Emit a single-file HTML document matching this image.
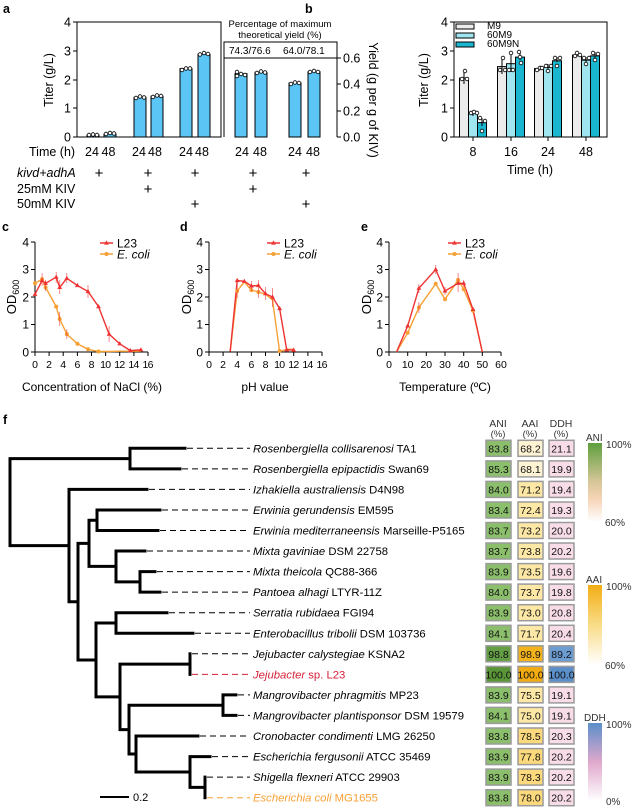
<!DOCTYPE html>
<html><head><meta charset="utf-8"><style>
body{margin:0;background:#fff}
svg{display:block;font-family:"Liberation Sans",Arial,sans-serif}
</style></head><body>
<svg width="632" height="811" viewBox="0 0 632 811" xmlns="http://www.w3.org/2000/svg">
<defs>
<path id="tri" d="M0,-2.6L2.4,1.6H-2.4Z" fill="#ee3333"/>
<linearGradient id="gA" x1="0" y1="0" x2="0" y2="1"><stop offset="0" stop-color="#5f9f3e"/><stop offset="0.5" stop-color="#d8c79a"/><stop offset="0.7" stop-color="#f5d3b5"/><stop offset="1" stop-color="#fff"/></linearGradient>
<linearGradient id="gB" x1="0" y1="0" x2="0" y2="1"><stop offset="0" stop-color="#f2ae14"/><stop offset="0.5" stop-color="#f9dc88"/><stop offset="1" stop-color="#fff"/></linearGradient>
<linearGradient id="gC" x1="0" y1="0" x2="0" y2="1"><stop offset="0" stop-color="#5b8fca"/><stop offset="0.5" stop-color="#e0a8cc"/><stop offset="1" stop-color="#fff"/></linearGradient>
</defs>
<g font-weight="bold" font-size="12.5" fill="#000">
<text x="3" y="13">a</text><text x="305" y="13">b</text>
<text x="2" y="231">c</text><text x="180" y="231">d</text><text x="361" y="231">e</text>
<text x="3" y="424">f</text></g>

<!-- Panel a -->
<g stroke="#000" stroke-width="1" fill="none">
<path d="M77,22V137H221V22H77"/>
<path d="M224,137V42H337V137"/><path d="M224,58H337"/>
<path d="M73,22H77M73,51H77M73,80H77M73,108H77M73,137H77"/>
<path d="M337,58H341M337,84H341M337,111H341M337,137H341"/>
</g>
<g font-size="12.5" text-anchor="end"><text x="71" y="26.5">4</text><text x="71" y="55.5">3</text><text x="71" y="84.5">2</text><text x="71" y="112.5">1</text><text x="71" y="141.5">0</text></g>
<g font-size="12.5"><text x="343" y="62.5">0.6</text><text x="343" y="88.5">0.4</text><text x="343" y="115.5">0.2</text><text x="343" y="141.5">0.0</text></g>
<text font-size="12.5" transform="translate(53,80) rotate(-90)" text-anchor="middle">Titer (g/L)</text>
<text font-size="12.5" transform="translate(369,100) rotate(90)" text-anchor="middle">Yield (g per g of KIV)</text>
<g font-size="9.5" text-anchor="middle"><text x="280" y="27">Percentage of maximum</text><text x="280" y="38">theoretical yield (%)</text></g>
<g font-size="10"><text x="229" y="54">74.3/76.6</text><text x="283" y="54">64.0/78.1</text></g>
<g fill="#5bc6f6" stroke="#000" stroke-width="1">
<rect x="87" y="135" width="12" height="2"/><rect x="104" y="134" width="12" height="3"/>
<rect x="134" y="97.3" width="12" height="39.7"/><rect x="151" y="96.2" width="12" height="40.8"/>
<rect x="180" y="68.6" width="12" height="68.4"/><rect x="198" y="54.2" width="12" height="82.8"/>
<rect x="235" y="73.7" width="12" height="63.3"/><rect x="255" y="72.3" width="12" height="64.7"/>
<rect x="289" y="83" width="12" height="54"/><rect x="308" y="71.7" width="12" height="65.3"/>
</g>
<g fill="#fff" stroke="#000" stroke-width="0.8">
<circle cx="89" cy="135" r="1.8"/><circle cx="93" cy="134.5" r="1.8"/><circle cx="97" cy="135" r="1.8"/>
<circle cx="106" cy="134" r="1.8"/><circle cx="110" cy="133" r="1.8"/><circle cx="114" cy="133.5" r="1.8"/>
<circle cx="136" cy="98" r="1.8"/><circle cx="140" cy="96.5" r="1.8"/><circle cx="144" cy="97.5" r="1.8"/>
<circle cx="153" cy="97" r="1.8"/><circle cx="157" cy="95.5" r="1.8"/><circle cx="161" cy="96" r="1.8"/>
<circle cx="182" cy="70" r="1.8"/><circle cx="186" cy="68.5" r="1.8"/><circle cx="190" cy="68.5" r="1.8"/>
<circle cx="200" cy="54.5" r="1.8"/><circle cx="204" cy="53" r="1.8"/><circle cx="208" cy="54" r="1.8"/>
<circle cx="237" cy="72" r="1.8"/><circle cx="237" cy="76" r="1.8"/><circle cx="241" cy="74" r="1.8"/><circle cx="245" cy="75" r="1.8"/>
<circle cx="257" cy="73" r="1.8"/><circle cx="261" cy="71.5" r="1.8"/><circle cx="265" cy="72.5" r="1.8"/>
<circle cx="291" cy="84" r="1.8"/><circle cx="295" cy="82.5" r="1.8"/><circle cx="299" cy="83" r="1.8"/>
<circle cx="310" cy="72" r="1.8"/><circle cx="314" cy="71" r="1.8"/><circle cx="318" cy="72" r="1.8"/>
</g>
<g font-size="12.5">
<text x="29" y="156">Time (h)</text>
<text x="85" y="156">24</text><text x="101.5" y="156">48</text>
<text x="132" y="156">24</text><text x="148" y="156">48</text>
<text x="179" y="156">24</text><text x="195" y="156">48</text>
<text x="235" y="156">24</text><text x="253" y="156">48</text>
<text x="288" y="156">24</text><text x="306" y="156">48</text>
<text x="17" y="177" font-style="italic">kivd+adhA</text>
<text x="17" y="193">25mM KIV</text>
<text x="17" y="208">50mM KIV</text>
</g>
<g font-size="15" text-anchor="middle">
<text x="99" y="178">+</text><text x="148" y="178">+</text><text x="195" y="178">+</text><text x="253" y="178">+</text><text x="306" y="178">+</text>
<text x="148" y="194">+</text><text x="253" y="194">+</text>
<text x="195" y="209">+</text><text x="306" y="209">+</text>
</g>

<!-- Panel b -->
<g stroke="#000" stroke-width="1" fill="none">
<path d="M454,22V137H607V22H454"/>
<path d="M450,22H454M450,51H454M450,80H454M450,108H454M450,137H454"/>
<path d="M473,137V141M511,137V141M548,137V141M586,137V141"/>
</g>
<g font-size="12.5" text-anchor="end"><text x="448" y="26.5">4</text><text x="448" y="55.5">3</text><text x="448" y="84.5">2</text><text x="448" y="112.5">1</text><text x="448" y="141.5">0</text></g>
<g font-size="12.5" text-anchor="middle"><text x="473" y="156">8</text><text x="511" y="156">16</text><text x="548" y="156">24</text><text x="586" y="156">48</text>
<text x="530" y="174">Time (h)</text></g>
<text font-size="12.5" transform="translate(428,80) rotate(-90)" text-anchor="middle">Titer (g/L)</text>
<g stroke="#000" stroke-width="1">
<g fill="#ececec"><rect x="459.5" y="78.1" width="9" height="58.9"/><rect x="497.5" y="66.6" width="9" height="70.4"/><rect x="534.5" y="68.6" width="9" height="68.4"/><rect x="572.5" y="55.1" width="9" height="81.9"/>
<rect x="456" y="24" width="18" height="5"/></g>
<g fill="#9fe6f1"><rect x="468.5" y="113.1" width="9" height="23.9"/><rect x="506.5" y="63.7" width="9" height="73.3"/><rect x="543.5" y="67.4" width="9" height="69.6"/><rect x="581.5" y="60.2" width="9" height="76.8"/>
<rect x="456" y="33" width="18" height="5"/></g>
<g fill="#1ab6cf"><rect x="477.5" y="122.6" width="9" height="14.4"/><rect x="515.5" y="57.1" width="9" height="79.9"/><rect x="552.5" y="60.8" width="9" height="76.2"/><rect x="590.5" y="55.9" width="9" height="81.1"/>
<rect x="456" y="42" width="18" height="5"/></g>
<path d="M464,72V84M473,110V116M482,118V126M502,58V74M511,52V72M520,52V60M539,67V71M548,64V70M557,57V62M577,53V57M586,57V62M595,52V59" fill="none"/>
</g>
<g font-size="10"><text x="487" y="29">M9</text><text x="487" y="38">60M9</text><text x="487" y="47">60M9N</text></g>
<g fill="#fff" stroke="#000" stroke-width="0.8">
<circle cx="462" cy="79" r="1.8"/><circle cx="465" cy="71" r="1.8"/><circle cx="467" cy="79" r="1.8"/>
<circle cx="471" cy="113" r="1.8"/><circle cx="474" cy="112" r="1.8"/><circle cx="477" cy="113" r="1.8"/>
<circle cx="480" cy="118" r="1.8"/><circle cx="482" cy="131" r="1.8"/><circle cx="485" cy="121" r="1.8"/>
<circle cx="500" cy="70" r="1.8"/><circle cx="503" cy="58" r="1.8"/><circle cx="505" cy="70" r="1.8"/>
<circle cx="509" cy="70" r="1.8"/><circle cx="511" cy="53" r="1.8"/><circle cx="513" cy="70" r="1.8"/>
<circle cx="519" cy="52" r="1.8"/><circle cx="520" cy="57" r="1.8"/><circle cx="521" cy="63" r="1.8"/>
<circle cx="537" cy="70" r="1.8"/><circle cx="540" cy="68" r="1.8"/><circle cx="542" cy="68" r="1.8"/>
<circle cx="546" cy="66" r="1.8"/><circle cx="548" cy="71" r="1.8"/><circle cx="551" cy="66" r="1.8"/>
<circle cx="555" cy="58" r="1.8"/><circle cx="557" cy="66" r="1.8"/><circle cx="560" cy="58" r="1.8"/>
<circle cx="575" cy="56" r="1.8"/><circle cx="577" cy="53" r="1.8"/><circle cx="580" cy="55" r="1.8"/>
<circle cx="584" cy="58" r="1.8"/><circle cx="586" cy="64" r="1.8"/><circle cx="589" cy="58" r="1.8"/>
<circle cx="593" cy="53" r="1.8"/><circle cx="595" cy="60" r="1.8"/><circle cx="598" cy="54" r="1.8"/>
</g>

<!-- Panel c,d,e axes -->
<g stroke="#000" stroke-width="1" fill="none">
<path d="M35,242V352H148M31,242H35M31,269.5H35M31,297H35M31,324.5H35M31,352H35"/>
<path d="M35,352V356M49.1,352V356M63.2,352V356M77.4,352V356M91.5,352V356M105.6,352V356M119.7,352V356M133.9,352V356M148,352V356"/>
<path d="M209,242V352H322M205,242H209M205,269.5H209M205,297H209M205,324.5H209M205,352H209"/>
<path d="M209,352V356M223.1,352V356M237.2,352V356M251.4,352V356M265.5,352V356M279.6,352V356M293.7,352V356M307.9,352V356M322,352V356"/>
<path d="M389,242V352H501M385,242H389M385,269.5H389M385,297H389M385,324.5H389M385,352H389"/>
<path d="M389,352V356M407.7,352V356M426.3,352V356M445,352V356M463.7,352V356M482.3,352V356M501,352V356"/>
</g>
<g font-size="12" text-anchor="end">
<text x="29" y="246.5">4</text><text x="29" y="273.5">3</text><text x="29" y="301.5">2</text><text x="29" y="328.5">1</text><text x="29" y="356.5">0</text>
<text x="203" y="246.5">4</text><text x="203" y="273.5">3</text><text x="203" y="301.5">2</text><text x="203" y="328.5">1</text><text x="203" y="356.5">0</text>
<text x="383" y="246.5">4</text><text x="383" y="273.5">3</text><text x="383" y="301.5">2</text><text x="383" y="328.5">1</text><text x="383" y="356.5">0</text>
</g>
<g font-size="10.5" text-anchor="middle">
<text x="35" y="368">0</text><text x="49.1" y="368">2</text><text x="63.2" y="368">4</text><text x="77.4" y="368">6</text><text x="91.5" y="368">8</text><text x="105.6" y="368" textLength="11">10</text><text x="119.7" y="368" textLength="11">12</text><text x="133.9" y="368" textLength="11">14</text><text x="148" y="368" textLength="11">16</text>
<text x="209" y="368">0</text><text x="223.1" y="368">2</text><text x="237.2" y="368">4</text><text x="251.4" y="368">6</text><text x="265.5" y="368">8</text><text x="279.6" y="368" textLength="11">10</text><text x="293.7" y="368" textLength="11">12</text><text x="307.9" y="368" textLength="11">14</text><text x="322" y="368" textLength="11">16</text>
<text x="389" y="368">0</text><text x="407.7" y="368">10</text><text x="426.3" y="368">20</text><text x="445" y="368">30</text><text x="463.7" y="368">40</text><text x="482.3" y="368">50</text><text x="501" y="368">60</text>
</g>
<g font-size="12" text-anchor="middle">
<text x="92" y="391">Concentration of NaCl  (%)</text>
<text x="265" y="391">pH value</text>
<text x="445" y="391">Temperature (ºC)</text>
</g>
<g font-size="13" text-anchor="middle">
<text transform="translate(16,297) rotate(-90)">OD<tspan font-size="9" dy="3">600</tspan></text>
<text transform="translate(191,297) rotate(-90)">OD<tspan font-size="9" dy="3">600</tspan></text>
<text transform="translate(371,297) rotate(-90)">OD<tspan font-size="9" dy="3">600</tspan></text>
</g>
<!-- legends -->
<g stroke-width="1.5">
<path d="M100,243H113M267,243H280M448,243H461" stroke="#ee3333"/>
<path d="M100,254H113M267,254H280M448,254H461" stroke="#f7a035"/>
</g>
<use href="#tri" x="106.5" y="243"/><use href="#tri" x="273.5" y="243"/><use href="#tri" x="454.5" y="243"/>
<g fill="#f7a035"><circle cx="106.5" cy="254" r="2"/><circle cx="273.5" cy="254" r="2"/><circle cx="454.5" cy="254" r="2"/></g>
<g font-size="12"><text x="117" y="247.5">L23</text><text x="117" y="258.5" font-style="italic">E. coli</text>
<text x="284" y="247.5">L23</text><text x="284" y="258.5" font-style="italic">E. coli</text>
<text x="465" y="247.5">L23</text><text x="465" y="258.5" font-style="italic">E. coli</text></g>
<g fill="none" stroke-width="1.4">
<polyline stroke="#f7a035" points="35,283.3 42.1,279.1 45.6,287.4 56.2,306.6 59.7,319 66.8,334.1 77.4,343.8 88,349.3 98.5,351.5 109.1,351.5 119.7,351.2 130.3,351.2 140.9,351.2"/>
<polyline stroke="#ee3333" points="35,294.3 42.1,280.5 45.6,283.3 56.2,277.2 59.7,287.4 66.8,278.3 77.4,285.5 88,291.5 98.5,306.6 109.1,334.1 119.7,343.8 130.3,350.6 140.9,349.8"/>
<polyline stroke="#f7a035" points="230.2,351.5 237.2,291 244.3,281.9 251.4,290.1 258.4,292 265.5,294.3 272.5,299.8 279.6,351.5 286.7,349.3 293.7,349.3"/>
<polyline stroke="#ee3333" points="230.2,351.5 237.2,280.5 244.3,281.3 251.4,286 258.4,285.5 265.5,293.7 272.5,297 279.6,308.5 286.7,349.8 293.7,350.1"/>
<polyline stroke="#f7a035" points="396.5,352 407.7,332.8 418.9,307.5 435.7,283.8 445,299.2 458.1,280 463.7,289.3 473,310.8 482.3,352"/>
<polyline stroke="#ee3333" points="396.5,352 407.7,325.9 418.9,288.2 435.7,269.5 445,291 458.1,283.3 463.7,283.3 473,309.4 482.3,352"/>
</g>
<g fill="#f7a035"><circle cx="35" cy="283.3" r="2"/><circle cx="42.1" cy="279.1" r="2"/><circle cx="45.6" cy="287.4" r="2"/><circle cx="56.2" cy="306.6" r="2"/><circle cx="59.7" cy="319" r="2"/><circle cx="66.8" cy="334.1" r="2"/><circle cx="77.4" cy="343.8" r="2"/><circle cx="88" cy="349.3" r="2"/><circle cx="98.5" cy="351.5" r="2"/>
<circle cx="237.2" cy="291" r="2"/><circle cx="251.4" cy="290.1" r="2"/><circle cx="258.4" cy="292" r="2"/><circle cx="279.6" cy="351" r="2"/>
<circle cx="407.7" cy="332.8" r="2"/><circle cx="418.9" cy="307.5" r="2"/><circle cx="435.7" cy="283.8" r="2"/><circle cx="445" cy="299.2" r="2"/><circle cx="458.1" cy="280" r="2"/><circle cx="463.7" cy="289.3" r="2"/><circle cx="473" cy="310.8" r="2"/></g>
<g>
<use href="#tri" x="35" y="294.3"/><use href="#tri" x="42.1" y="280.5"/><use href="#tri" x="45.6" y="283.3"/><use href="#tri" x="56.2" y="277.2"/><use href="#tri" x="59.7" y="287.4"/><use href="#tri" x="66.8" y="278.3"/><use href="#tri" x="77.4" y="285.5"/><use href="#tri" x="88" y="291.5"/><use href="#tri" x="98.5" y="306.6"/><use href="#tri" x="109.1" y="334.1"/><use href="#tri" x="119.7" y="343.8"/><use href="#tri" x="130.3" y="350.6"/><use href="#tri" x="140.9" y="349.8"/>
<use href="#tri" x="237.2" y="280.5"/><use href="#tri" x="244.3" y="281.3"/><use href="#tri" x="251.4" y="286"/><use href="#tri" x="258.4" y="285.5"/><use href="#tri" x="265.5" y="293.7"/><use href="#tri" x="272.5" y="297"/><use href="#tri" x="279.6" y="308.5"/><use href="#tri" x="286.7" y="349.8"/><use href="#tri" x="293.7" y="350.1"/>
<use href="#tri" x="407.7" y="325.9"/><use href="#tri" x="418.9" y="288.2"/><use href="#tri" x="435.7" y="269.5"/><use href="#tri" x="445" y="291"/><use href="#tri" x="458.1" y="283.3"/><use href="#tri" x="463.7" y="283.3"/><use href="#tri" x="473" y="309.4"/>
</g>
<g stroke="#ee3333" stroke-width="0.8" fill="none" opacity="0.7">
<path d="M56.2,272V283M59.7,280V294M66.8,273V283M88,285V298M109.1,326V342M42.1,275V286M45.6,280V291M59.7,312V326M66.8,329V339M42.1,273V285"/>
<path d="M251.4,281V291M258.4,280V292M265.5,287V300M272.5,288V307M237.2,284V298M258.4,286V298"/>
<path d="M418.9,284V293M435.7,265V274M445,287V295M458.1,275V292M463.7,280V287M418.9,302V313M458.1,273V290"/>
</g>
<!-- Panel f tree -->
<g stroke="#000" stroke-width="3" fill="none" stroke-linecap="square">
<path d="M10,458.6V545.6M10,458.6H130M10,545.6H69"/>
<path d="M130,448.3V468.9M130,448.3H185M130,468.9H180"/>
<path d="M69,489.4V601.7M69,489.4H147M69,601.7H78"/>
<path d="M78,543.4V660M78,543.4H89M78,660H96"/>
<path d="M89,520.3V566.4M89,520.3H97M89,566.4H116"/>
<path d="M97,510V530.5M97,510H160M97,530.5H158"/>
<path d="M116,551V581.9M116,551H145M116,581.9H140"/>
<path d="M140,571.6V592.1M140,571.6H155M140,592.1H160"/>
<path d="M96,623V696.9M96,623H116M96,696.9H120"/>
<path d="M116,612.7V633.3M116,612.7H167M116,633.3H193"/>
<path d="M120,664.1V729.6M120,664.1H190M120,729.6H129"/>
<path d="M190,653.8V674.4"/>
<path d="M129,705.2V754M129,705.2H223M129,754H136"/>
<path d="M223,694.9V715.4M223,694.9H236M223,715.4H236"/>
<path d="M136,736V772M136,736H198M136,772H190"/>
<path d="M190,756.6V787.4M190,756.6H210M190,787.4H205"/>
<path d="M205,777.1V797.7"/>
<path d="M101,797H128" stroke-width="2"/>
</g>
<text x="133" y="801" font-size="11">0.2</text>
<g stroke="#000" stroke-width="1" stroke-dasharray="6,4" fill="none">
<path d="M187,448.3H250M182,468.9H250M149,489.4H250M162,510H250M160,530.5H250M147,551H250M157,571.6H250M162,592.1H250M169,612.7H250M195,633.3H250M192,653.8H250M238,694.9H250M238,715.4H250M200,736H250M212,756.6H250M207,777.1H250"/>
<path d="M192,674.4H250" stroke="#d6203a"/><path d="M207,797.7H250" stroke="#f7a035"/>
</g>
<g font-size="11.3">
<text x="253" y="452.3"><tspan font-style="italic">Rosenbergiella collisarenosi</tspan> TA1</text>
<text x="253" y="472.9"><tspan font-style="italic">Rosenbergiella epipactidis</tspan> Swan69</text>
<text x="253" y="493.4"><tspan font-style="italic">Izhakiella australiensis</tspan> D4N98</text>
<text x="253" y="514"><tspan font-style="italic">Erwinia gerundensis</tspan> EM595</text>
<text x="253" y="534.5"><tspan font-style="italic">Erwinia mediterraneensis</tspan> Marseille-P5165</text>
<text x="253" y="555"><tspan font-style="italic">Mixta gaviniae</tspan> DSM 22758</text>
<text x="253" y="575.6"><tspan font-style="italic">Mixta theicola</tspan> QC88-366</text>
<text x="253" y="596.1"><tspan font-style="italic">Pantoea alhagi</tspan> LTYR-11Z</text>
<text x="253" y="616.7"><tspan font-style="italic">Serratia rubidaea</tspan> FGI94</text>
<text x="253" y="637.3"><tspan font-style="italic">Enterobacillus tribolii</tspan> DSM 103736</text>
<text x="253" y="657.8"><tspan font-style="italic">Jejubacter calystegiae</tspan> KSNA2</text>
<text x="253" y="678.4" fill="#d6203a"><tspan font-style="italic">Jejubacter</tspan> sp. L23</text>
<text x="253" y="698.9"><tspan font-style="italic">Mangrovibacter phragmitis</tspan> MP23</text>
<text x="253" y="719.4"><tspan font-style="italic">Mangrovibacter plantisponsor</tspan> DSM 19579</text>
<text x="253" y="740"><tspan font-style="italic">Cronobacter condimenti</tspan> LMG 26250</text>
<text x="253" y="760.6"><tspan font-style="italic">Escherichia fergusonii</tspan> ATCC 35469</text>
<text x="253" y="781.1"><tspan font-style="italic">Shigella flexneri</tspan> ATCC 29903</text>
<text x="253" y="801.7" fill="#f7a035"><tspan font-style="italic">Escherichia coli</tspan> MG1655</text>
</g>
<!-- heatmap -->
<g font-size="10.5" text-anchor="middle" fill="#333"><text x="498" y="427">ANI</text><text x="498" y="437" font-size="9.5">(%)</text>
<text x="530" y="427">AAI</text><text x="530" y="437" font-size="9.5">(%)</text>
<text x="561" y="427">DDH</text><text x="561" y="437" font-size="9.5">(%)</text></g>
<rect x="588" y="443" width="14" height="79" fill="url(#gA)"/>
<rect x="588" y="585" width="14" height="80" fill="url(#gB)"/>
<rect x="588" y="723" width="14" height="78" fill="url(#gC)"/>
<g font-size="10" fill="#333"><text x="586" y="441">ANI</text><text x="606" y="448">100%</text><text x="605" y="526">60%</text>
<text x="586" y="583">AAI</text><text x="606" y="590">100%</text><text x="605" y="669">60%</text>
<text x="584" y="721">DDH</text><text x="606" y="728">100%</text><text x="606" y="805">0%</text></g>
<g stroke="#9a9a9a" stroke-width="1.5">
<g fill="#8cbf6c">
<rect x="486" y="440.3" width="25" height="16"/><rect x="486" y="460.9" width="25" height="16"/><rect x="486" y="481.4" width="25" height="16"/><rect x="486" y="502" width="25" height="16"/><rect x="486" y="522.5" width="25" height="16"/><rect x="486" y="543" width="25" height="16"/><rect x="486" y="563.6" width="25" height="16"/><rect x="486" y="584.1" width="25" height="16"/><rect x="486" y="604.7" width="25" height="16"/><rect x="486" y="625.3" width="25" height="16"/><rect x="486" y="686.9" width="25" height="16"/><rect x="486" y="707.4" width="25" height="16"/><rect x="486" y="728" width="25" height="16"/><rect x="486" y="748.6" width="25" height="16"/><rect x="486" y="769.1" width="25" height="16"/><rect x="486" y="789.7" width="25" height="16"/></g>
<rect x="486" y="645.8" width="25" height="16" fill="#649f45"/><rect x="486" y="666.4" width="25" height="16" fill="#5a9538"/>
<rect x="518" y="440.3" width="25" height="16" fill="#fef3d2"/><rect x="518" y="460.9" width="25" height="16" fill="#fef3d2"/>
<g fill="#fde8a6"><rect x="518" y="481.4" width="25" height="16"/><rect x="518" y="502" width="25" height="16"/><rect x="518" y="522.5" width="25" height="16"/><rect x="518" y="543" width="25" height="16"/><rect x="518" y="563.6" width="25" height="16"/><rect x="518" y="584.1" width="25" height="16"/><rect x="518" y="604.7" width="25" height="16"/><rect x="518" y="625.3" width="25" height="16"/><rect x="518" y="686.9" width="25" height="16"/><rect x="518" y="707.4" width="25" height="16"/></g>
<g fill="#fcd97c"><rect x="518" y="728" width="25" height="16"/><rect x="518" y="748.6" width="25" height="16"/><rect x="518" y="769.1" width="25" height="16"/><rect x="518" y="789.7" width="25" height="16"/></g>
<rect x="518" y="645.8" width="25" height="16" fill="#f4b31c"/><rect x="518" y="666.4" width="25" height="16" fill="#f2ac12"/>
<g fill="#f8dde9"><rect x="549" y="440.3" width="25" height="16"/><rect x="549" y="460.9" width="25" height="16"/><rect x="549" y="481.4" width="25" height="16"/><rect x="549" y="502" width="25" height="16"/><rect x="549" y="522.5" width="25" height="16"/><rect x="549" y="543" width="25" height="16"/><rect x="549" y="563.6" width="25" height="16"/><rect x="549" y="584.1" width="25" height="16"/><rect x="549" y="604.7" width="25" height="16"/><rect x="549" y="625.3" width="25" height="16"/><rect x="549" y="686.9" width="25" height="16"/><rect x="549" y="707.4" width="25" height="16"/><rect x="549" y="728" width="25" height="16"/><rect x="549" y="748.6" width="25" height="16"/><rect x="549" y="769.1" width="25" height="16"/><rect x="549" y="789.7" width="25" height="16"/></g>
<rect x="549" y="645.8" width="25" height="16" fill="#6c9cd2"/><rect x="549" y="666.4" width="25" height="16" fill="#5a8fca"/>
</g>
<g font-size="10.5" text-anchor="middle" fill="#111">
<text x="498.5" y="452.3">83.8</text><text x="530.5" y="452.3">68.2</text><text x="561.5" y="452.3">21.1</text>
<text x="498.5" y="472.9">85.3</text><text x="530.5" y="472.9">68.1</text><text x="561.5" y="472.9">19.9</text>
<text x="498.5" y="493.4">84.0</text><text x="530.5" y="493.4">71.2</text><text x="561.5" y="493.4">19.4</text>
<text x="498.5" y="514">83.4</text><text x="530.5" y="514">72.4</text><text x="561.5" y="514">19.3</text>
<text x="498.5" y="534.5">83.7</text><text x="530.5" y="534.5">73.2</text><text x="561.5" y="534.5">20.0</text>
<text x="498.5" y="555">83.7</text><text x="530.5" y="555">73.8</text><text x="561.5" y="555">20.2</text>
<text x="498.5" y="575.6">83.9</text><text x="530.5" y="575.6">73.5</text><text x="561.5" y="575.6">19.6</text>
<text x="498.5" y="596.1">84.0</text><text x="530.5" y="596.1">73.7</text><text x="561.5" y="596.1">19.8</text>
<text x="498.5" y="616.7">83.9</text><text x="530.5" y="616.7">73.0</text><text x="561.5" y="616.7">20.8</text>
<text x="498.5" y="637.3">84.1</text><text x="530.5" y="637.3">71.7</text><text x="561.5" y="637.3">20.4</text>
<text x="498.5" y="657.8">98.8</text><text x="530.5" y="657.8">98.9</text><text x="561.5" y="657.8">89.2</text>
<text x="498.5" y="678.4">100.0</text><text x="530.5" y="678.4">100.0</text><text x="561.5" y="678.4">100.0</text>
<text x="498.5" y="698.9">83.9</text><text x="530.5" y="698.9">75.5</text><text x="561.5" y="698.9">19.1</text>
<text x="498.5" y="719.4">84.1</text><text x="530.5" y="719.4">75.0</text><text x="561.5" y="719.4">19.1</text>
<text x="498.5" y="740">83.8</text><text x="530.5" y="740">78.5</text><text x="561.5" y="740">20.3</text>
<text x="498.5" y="760.6">83.9</text><text x="530.5" y="760.6">77.8</text><text x="561.5" y="760.6">20.2</text>
<text x="498.5" y="781.1">83.9</text><text x="530.5" y="781.1">78.3</text><text x="561.5" y="781.1">20.2</text>
<text x="498.5" y="801.7">83.8</text><text x="530.5" y="801.7">78.0</text><text x="561.5" y="801.7">20.2</text>
</g>
</svg>
</body></html>
